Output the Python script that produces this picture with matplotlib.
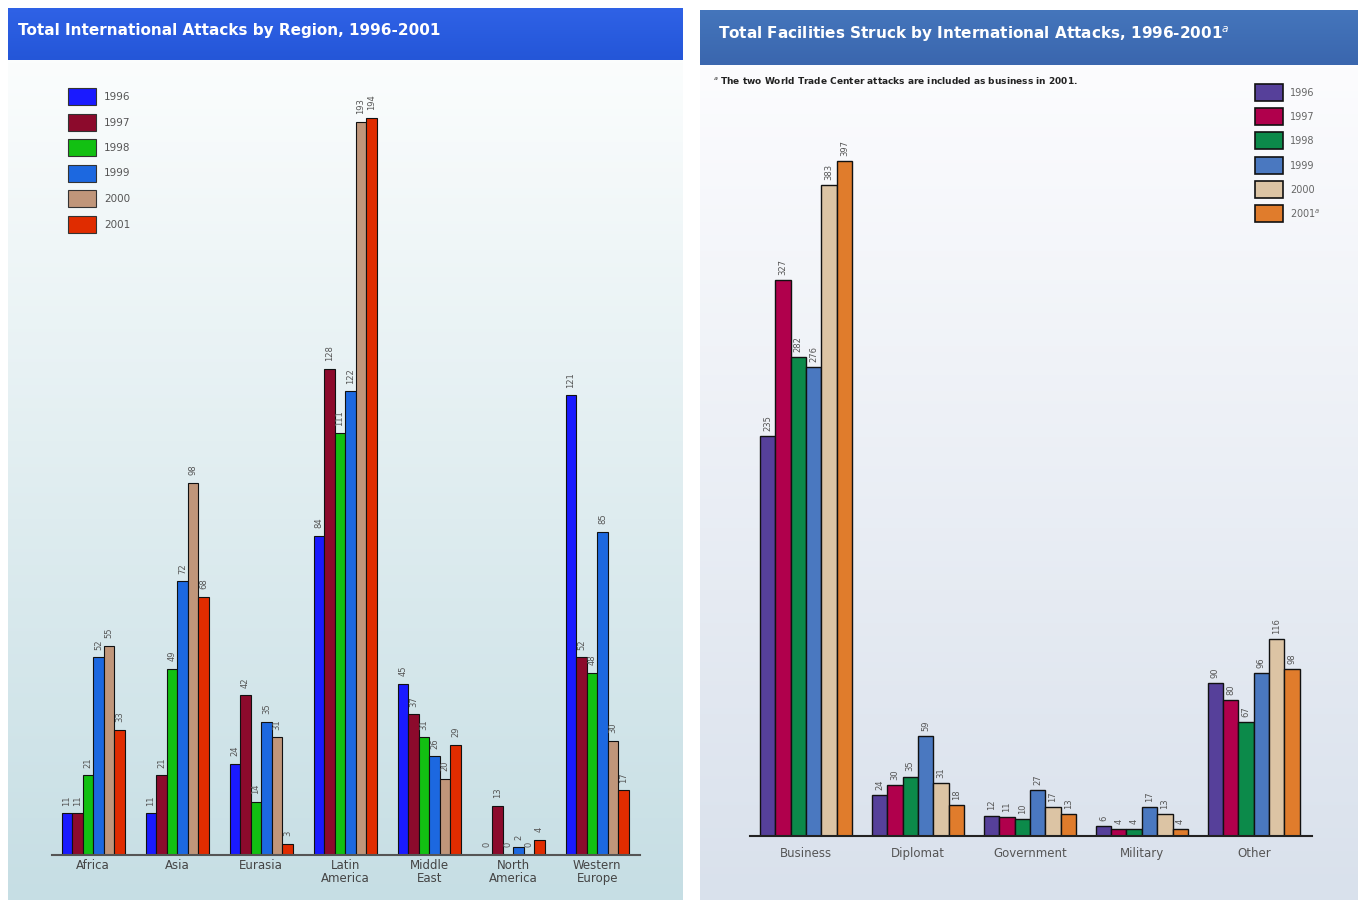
import numpy as np
import matplotlib.pyplot as plt
from matplotlib.colors import LinearSegmentedColormap
from matplotlib.patches import Rectangle

# --- data -------------------------------------------------------------
regions = ["Africa", "Asia", "Eurasia", "Latin\nAmerica", "Middle\nEast",
           "North\nAmerica", "Western\nEurope"]
region_years = ["1996", "1997", "1998", "1999", "2000", "2001"]
region_vals = [
    [11, 11, 24, 84, 45, 0, 121],     # 1996
    [11, 21, 42, 128, 37, 13, 52],    # 1997
    [21, 49, 14, 111, 31, 0, 48],     # 1998
    [52, 72, 35, 122, 26, 2, 85],     # 1999
    [55, 98, 31, 193, 20, 0, 30],     # 2000
    [33, 68, 3, 194, 29, 4, 17],      # 2001
]

facilities = ["Business", "Diplomat", "Government", "Military", "Other"]
fac_years = ["1996", "1997", "1998", "1999", "2000", "2001$^{a}$"]
fac_vals = [
    [235, 24, 12, 6, 90],
    [327, 30, 11, 4, 80],
    [282, 35, 10, 4, 67],
    [276, 59, 27, 17, 96],
    [383, 31, 17, 13, 116],
    [397, 18, 13, 4, 98],
]

left_colors = ["#1a1aff", "#8c0a2c", "#12c012", "#1c68e0", "#c0967a", "#e02c00"]
right_colors = ["#56409a", "#b0004c", "#0c8a4a", "#4a78c0", "#dcc4a4", "#e07c2c"]

W, H = 1358, 902
fig = plt.figure(figsize=(W / 100, H / 100), dpi=100)


def box(x0, y0, x1, y1):
    return [x0 / W, 1 - y1 / H, (x1 - x0) / W, (y1 - y0) / H]


def gradient(x0, y0, x1, y1, top, bottom):
    a = fig.add_axes(box(x0, y0, x1, y1))
    cmap = LinearSegmentedColormap.from_list("g", [top, bottom])
    a.imshow(np.linspace(0, 1, 256).reshape(-1, 1), aspect="auto", cmap=cmap,
             extent=[0, 1, 0, 1], origin="upper")
    a.set_axis_off()
    return a


# backgrounds and banners
gradient(8, 60, 683, 900, "#fbfdfd", "#c6dee4")
gradient(700, 65, 1358, 900, "#fcfcfe", "#d9e1ec")
b1 = gradient(8, 8, 683, 60, "#2f62e6", "#2456d8")
b2 = gradient(700, 10, 1358, 65, "#4576bc", "#3a66ae")
fig.text(18 / W, 1 - 31 / H, "Total International Attacks by Region, 1996-2001",
         color="white", fontsize=11, fontweight="bold", va="center")
fig.text(718 / W, 1 - 34 / H, "Total Facilities Struck by International Attacks, 1996-2001$^{a}$",
         color="white", fontsize=11, fontweight="bold", va="center")
fig.text(713 / W, 1 - 80 / H,
         "$^{a}$ The two World Trade Center attacks are included as business in 2001.",
         color="#222222", fontsize=6.5, fontweight="bold", va="center")

# --- left chart ---------------------------------------------------------
ax1 = fig.add_axes(box(52, 95, 640, 855))
ax1.patch.set_alpha(0)
n = len(region_years)
bw = 0.125
x = np.arange(len(regions))
for i, (yr, vals) in enumerate(zip(region_years, region_vals)):
    pos = x + (i - (n - 1) / 2) * bw
    ax1.bar(pos, vals, bw, color=left_colors[i], edgecolor="#111111", linewidth=0.8)
    for p, v in zip(pos, vals):
        ax1.text(p, v + 2, str(v), rotation=90, ha="center", va="bottom",
                 fontsize=6, color="#555555")
ax1.set_xlim(-0.49, 6.51)
ax1.set_ylim(0, 200)
ax1.set_xticks(x)
ax1.set_xticklabels(regions, fontsize=8.5, color="#444444", linespacing=1.0)
ax1.tick_params(axis="x", length=0, pad=3)
ax1.set_yticks([])
for s in ["top", "right", "left"]:
    ax1.spines[s].set_visible(False)
ax1.spines["bottom"].set_color("#555555")
ax1.spines["bottom"].set_linewidth(1.5)

# left legend
for i, yr in enumerate(region_years):
    y0 = 88 + i * 25.5
    fig.patches.append(Rectangle((68 / W, 1 - (y0 + 17) / H), 28 / W, 17 / H,
                                 transform=fig.transFigure, facecolor=left_colors[i],
                                 edgecolor="#333333", linewidth=0.8))
    fig.text(104 / W, 1 - (y0 + 9) / H, yr, fontsize=7.5, color="#555555", va="center")

# --- right chart --------------------------------------------------------
ax2 = fig.add_axes(box(750, 122, 1312, 836))
ax2.patch.set_alpha(0)
bw2 = 0.137
x2 = np.arange(len(facilities))
for i, (yr, vals) in enumerate(zip(fac_years, fac_vals)):
    pos = x2 + (i - (n - 1) / 2) * bw2
    ax2.bar(pos, vals, bw2, color=right_colors[i], edgecolor="#111111", linewidth=1.0)
    for p, v in zip(pos, vals):
        ax2.text(p, v + 3, str(v), rotation=90, ha="center", va="bottom",
                 fontsize=6, color="#555555")
ax2.set_xlim(-0.5, 4.52)
ax2.set_ylim(0, 420)
ax2.set_xticks(x2)
ax2.set_xticklabels(facilities, fontsize=8.5, color="#555555")
ax2.tick_params(axis="x", length=0, pad=8)
ax2.set_yticks([])
for s in ["top", "right", "left"]:
    ax2.spines[s].set_visible(False)
ax2.spines["bottom"].set_color("#222222")
ax2.spines["bottom"].set_linewidth(1.5)

# right legend
for i, yr in enumerate(fac_years):
    y0 = 84 + i * 24.2
    fig.patches.append(Rectangle((1255 / W, 1 - (y0 + 17) / H), 28 / W, 17 / H,
                                 transform=fig.transFigure, facecolor=right_colors[i],
                                 edgecolor="#111111", linewidth=1.2))
    fig.text(1290 / W, 1 - (y0 + 9) / H, yr, fontsize=7, color="#666666", va="center")

fig.savefig("out.png", dpi=100)
